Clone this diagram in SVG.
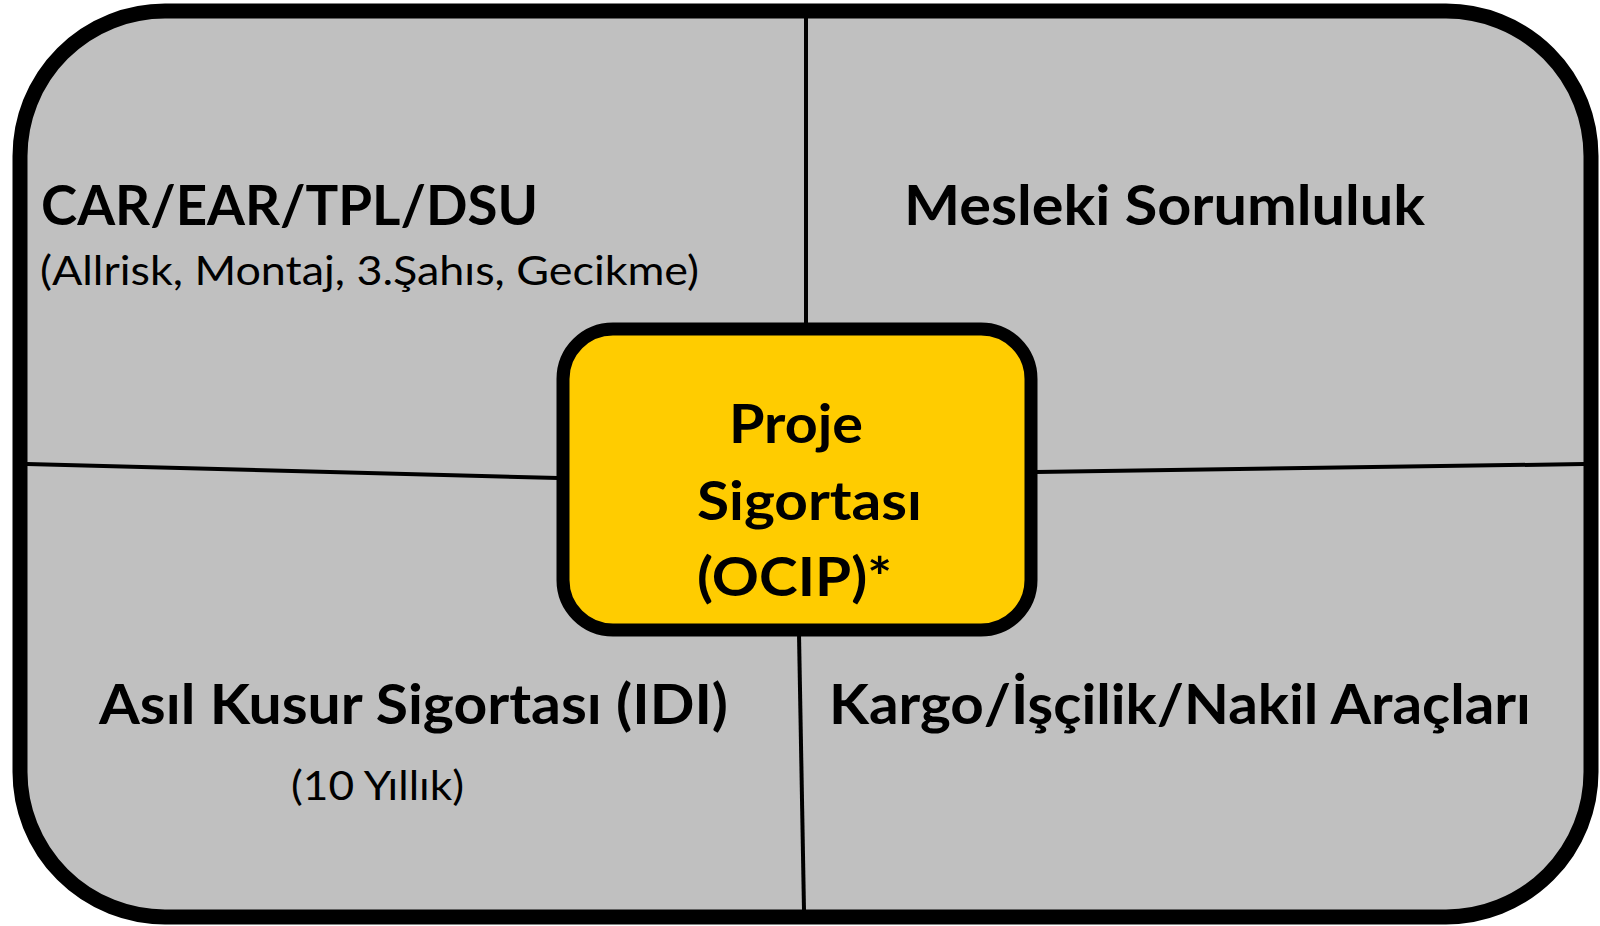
<svg xmlns="http://www.w3.org/2000/svg" width="1600" height="926" viewBox="0 0 1600 926">
  <style>
    .b { font-family: Lato, "Open Sans", "Liberation Sans", sans-serif; font-weight: bold; font-size: 55px; fill: #000; }
    .r { font-family: Lato, "Open Sans", "Liberation Sans", sans-serif; font-weight: normal; font-size: 41px; fill: #000; }
    .c { font-family: Lato, "Open Sans", "Liberation Sans", sans-serif; font-weight: bold; font-size: 54px; fill: #000; }
    .div { stroke: #000; stroke-width: 4; fill: none; }
  </style>
  <rect width="1600" height="926" fill="#ffffff"/>
  <g id="frame">
    <rect x="20" y="11" width="1571" height="906" rx="145" ry="145" fill="#C0C0C0" stroke="#000" stroke-width="15"/>
  </g>
  <g id="connectors">
    <line class="div" x1="806" y1="18" x2="806" y2="325"/>
    <line class="div" x1="799" y1="634" x2="804" y2="910"/>
    <line class="div" x1="27" y1="464" x2="558" y2="478"/>
    <line class="div" x1="1036" y1="472" x2="1584" y2="464"/>
  </g>
  <g id="q-car">
    <text class="b" x="41" y="225" textLength="497" lengthAdjust="spacingAndGlyphs">CAR/EAR/TPL/DSU</text>
    <text class="r" x="40" y="285" textLength="659" lengthAdjust="spacingAndGlyphs">(Allrisk, Montaj, 3.Şahıs, Gecikme)</text>
  </g>
  <g id="q-mesleki">
    <text class="b" x="904" y="225" textLength="521" lengthAdjust="spacingAndGlyphs">Mesleki Sorumluluk</text>
  </g>
  <g id="q-idi">
    <text class="b" x="99" y="724" textLength="629" lengthAdjust="spacingAndGlyphs">Asıl Kusur Sigortası (IDI)</text>
    <text class="r" x="291" y="800" textLength="173" lengthAdjust="spacingAndGlyphs">(10 Yıllık)</text>
  </g>
  <g id="q-kargo">
    <text class="b" x="829" y="724" textLength="702" lengthAdjust="spacingAndGlyphs">Kargo/İşçilik/Nakil Araçları</text>
  </g>
  <g id="center">
    <rect x="563" y="329" width="468" height="301" rx="50" ry="50" fill="#FFCC00" stroke="#000" stroke-width="13"/>
    <text class="c" x="729" y="443" textLength="134" lengthAdjust="spacingAndGlyphs">Proje</text>
    <text class="c" x="697" y="520" textLength="225" lengthAdjust="spacingAndGlyphs">Sigortası</text>
    <text class="c" x="697" y="596" textLength="195" lengthAdjust="spacingAndGlyphs">(OCIP)*</text>
  </g>
</svg>
